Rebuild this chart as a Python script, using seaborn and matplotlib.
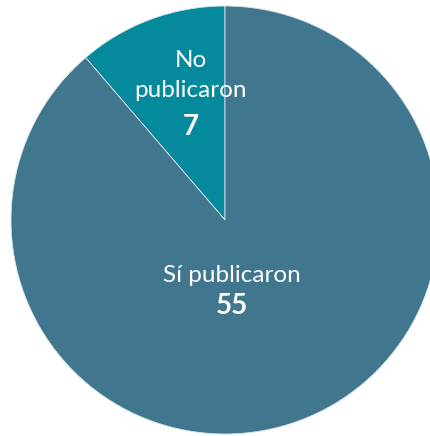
import matplotlib
matplotlib.use("Agg")
import matplotlib.pyplot as plt
import seaborn as sns

categories = ["No\npublicaron", "Sí publicaron"]
values = [7, 55]
colors = ["#05899C", "#41768F"]

sns.set_theme(style="white")
plt.rcParams['font.family'] = ['Lato', 'DejaVu Sans']

fig = plt.figure(figsize=(4.31, 4.36), dpi=100)
ax = fig.add_axes([11/431, 2/436, 428/431, 428/436])
wedges, _ = ax.pie(values, colors=colors, startangle=90, counterclock=True,
                   wedgeprops=dict(linewidth=0.6, edgecolor="#d8e6ea"),
                   radius=1.0)
ax.set_xlim(-1, 1)
ax.set_ylim(-1, 1)
ax.set_aspect('auto')
ax.axis('off')

# label layout: x centre, baseline of first label line, line step, number baseline
layout = [(-0.1589, 0.7136, 0.1374, 0.3972),
          (0.0313, -0.2911, 0.1374, -0.4407)]
for (x, y0, step, yn), cat, v in zip(layout, categories, values):
    for i, line in enumerate(cat.split("\n")):
        ax.text(x, y0 - i * step, line, ha='center', va='baseline',
                color='white', fontsize=17.5)
    ax.text(x, yn, str(v), ha='center', va='baseline', color='white',
            fontsize=20, fontweight='bold')

fig.savefig("out.png", dpi=100)
